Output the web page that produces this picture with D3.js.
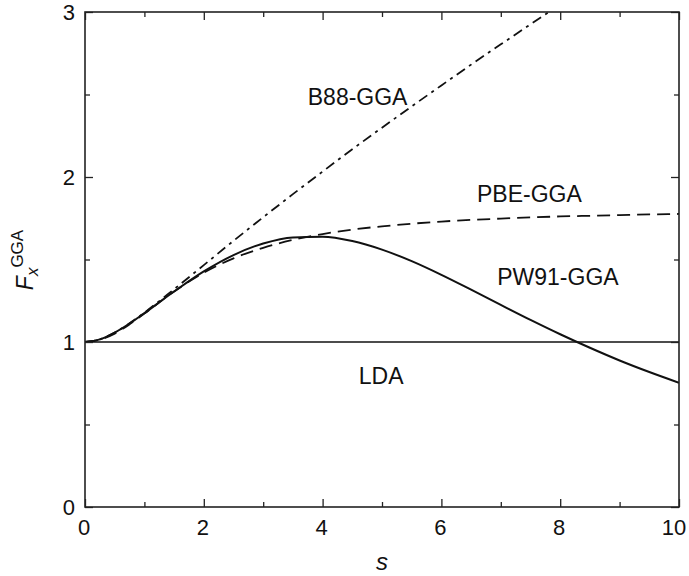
<!DOCTYPE html>
<html>
<head>
<meta charset="utf-8">
<script src="https://cdn.jsdelivr.net/npm/d3@7"></script>
<style>
	html, body { margin: 0; padding: 0; background: #fff; }
	svg text { font-family: "Liberation Sans", Arial, sans-serif; fill: #111; }
</style>
</head>
<body>
<div id="chart"></div>
<script>
// reduced gradient s
const sGrid = [0, 0.25, 0.5, 0.75, 1, 1.5, 2, 2.5, 3, 3.5, 4, 4.5, 5, 5.5, 6, 6.5, 7, 7.5, 8, 8.5, 9, 9.5, 10];
// enhancement factors
const ldaVals  = [1, 1, 1, 1, 1, 1, 1, 1, 1, 1, 1, 1, 1, 1, 1, 1, 1, 1, 1, 1, 1, 1, 1];
const b88Vals  = [1, 1.016, 1.057, 1.113, 1.178, 1.320, 1.466, 1.613, 1.756, 1.896, 2.033, 2.168, 2.299, 2.428, 2.555, 2.681, 2.804, 2.925, 3.045, 3.164, null, null, null];
const pbeVals  = [1, 1.014, 1.051, 1.107, 1.172, 1.306, 1.420, 1.507, 1.571, 1.619, 1.654, 1.681, 1.701, 1.717, 1.730, 1.740, 1.748, 1.755, 1.761, 1.765, 1.769, 1.773, 1.776];
const pw91Vals = [1, 1.016, 1.057, 1.112, 1.175, 1.306, 1.428, 1.527, 1.597, 1.634, 1.638, 1.612, 1.560, 1.490, 1.407, 1.317, 1.225, 1.134, 1.047, 0.965, 0.888, 0.818, 0.753];

const xTicks = [0, 2, 4, 6, 8, 10];
const yTicks = [0, 1, 2, 3];
const curveNames = ['B88-GGA', 'PBE-GGA', 'PW91-GGA', 'LDA'];

const W = 689, H = 576;
const pLeft = 85, pRight = 679, pTop = 12, pBottom = 507;

const x = d3.scaleLinear().domain([0, 10]).range([pLeft, pRight]);
const y = d3.scaleLinear().domain([0, 3]).range([pBottom, pTop]);

const svg = d3.select('#chart')
	.append('svg')
	.attr('width', W)
	.attr('height', H);

svg.append('defs').append('clipPath')
	.attr('id', 'plot')
	.append('rect')
	.attr('x', pLeft).attr('y', pTop)
	.attr('width', pRight - pLeft).attr('height', pBottom - pTop);

//	curves
const drawCurve = (vals, dash, sw) => {
	const line = d3.line()
		.defined(d => d[1] != null)
		.x(d => x(d[0]))
		.y(d => y(d[1]))
		.curve(d3.curveMonotoneX);
	svg.append('path')
		.datum(sGrid.map((s, i) => [s, vals[i]]))
		.attr('clip-path', 'url(#plot)')
		.attr('d', line)
		.attr('fill', 'none')
		.attr('stroke', '#111')
		.attr('stroke-width', sw)
		.attr('stroke-dasharray', dash);
};
drawCurve(ldaVals, null, 1.3);
drawCurve(b88Vals, '10,5,3,5', 1.8);
drawCurve(pbeVals, '13,7', 1.8);
drawCurve(pw91Vals, null, 2);

//	axes on all four sides, ticks pointing inward
const axisG = (axis, tx, ty) => svg.append('g')
	.attr('transform', 'translate(' + tx + ',' + ty + ')')
	.call(axis)
	.call(g => g.select('.domain').remove())
	.call(g => g.selectAll('line').attr('stroke', '#222').attr('stroke-width', 1.3))
	.call(g => g.selectAll('text').remove());

const xMinor = d3.range(1, 10, 2), yMinor = [0.5, 1.5, 2.5];
axisG(d3.axisBottom(x).tickValues(xTicks).tickSizeInner(-8), 0, pBottom);
axisG(d3.axisBottom(x).tickValues(xMinor).tickSizeInner(-5), 0, pBottom);
axisG(d3.axisTop(x).tickValues(xTicks).tickSizeInner(-8), 0, pTop);
axisG(d3.axisTop(x).tickValues(xMinor).tickSizeInner(-5), 0, pTop);
axisG(d3.axisLeft(y).tickValues(yTicks).tickSizeInner(-8), pLeft, 0);
axisG(d3.axisLeft(y).tickValues(yMinor).tickSizeInner(-5), pLeft, 0);
axisG(d3.axisRight(y).tickValues(yTicks).tickSizeInner(-8), pRight, 0);
axisG(d3.axisRight(y).tickValues(yMinor).tickSizeInner(-5), pRight, 0);

svg.append('rect')
	.attr('x', pLeft).attr('y', pTop)
	.attr('width', pRight - pLeft).attr('height', pBottom - pTop)
	.attr('fill', 'none')
	.attr('stroke', '#222')
	.attr('stroke-width', 1.6);

//	tick labels, the last one nudged in so it stays on the page
svg.selectAll('.xl')
	.data(xTicks)
	.enter()
	.append('text')
	.attr('x', (d, i) => x(d) - (i === xTicks.length - 1 ? 5 : 1))
	.attr('y', 535)
	.attr('text-anchor', 'middle')
	.style('font-size', '22px')
	.text(d => d);

svg.selectAll('.yl')
	.data(yTicks)
	.enter()
	.append('text')
	.attr('x', 75)
	.attr('y', d => y(d) + 8)
	.attr('text-anchor', 'end')
	.style('font-size', '22px')
	.text(d => d);

//	axis titles
svg.append('text')
	.attr('x', (pLeft + pRight) / 2)
	.attr('y', 570)
	.attr('text-anchor', 'middle')
	.style('font-size', '24px')
	.style('font-style', 'italic')
	.text('s');

const yt = svg.append('text')
	.attr('transform', 'translate(33,260) rotate(-90)')
	.attr('text-anchor', 'middle');
yt.append('tspan').style('font-size', '23px').style('font-style', 'italic').text('F');
yt.append('tspan').attr('dy', 5).style('font-size', '17px').style('font-style', 'italic').text('x');
yt.append('tspan').attr('dy', -15).style('font-size', '17px').text('GGA');

//	curve labels
const labelPos = [[3.75, 2.435], [6.6, 1.846], [6.94, 1.345], [4.61, 0.745]];
svg.selectAll('.cl')
	.data(curveNames)
	.enter()
	.append('text')
	.attr('x', (d, i) => x(labelPos[i][0]))
	.attr('y', (d, i) => y(labelPos[i][1]))
	.style('font-size', '23px')
	.text(d => d);
</script>
</body>
</html>
